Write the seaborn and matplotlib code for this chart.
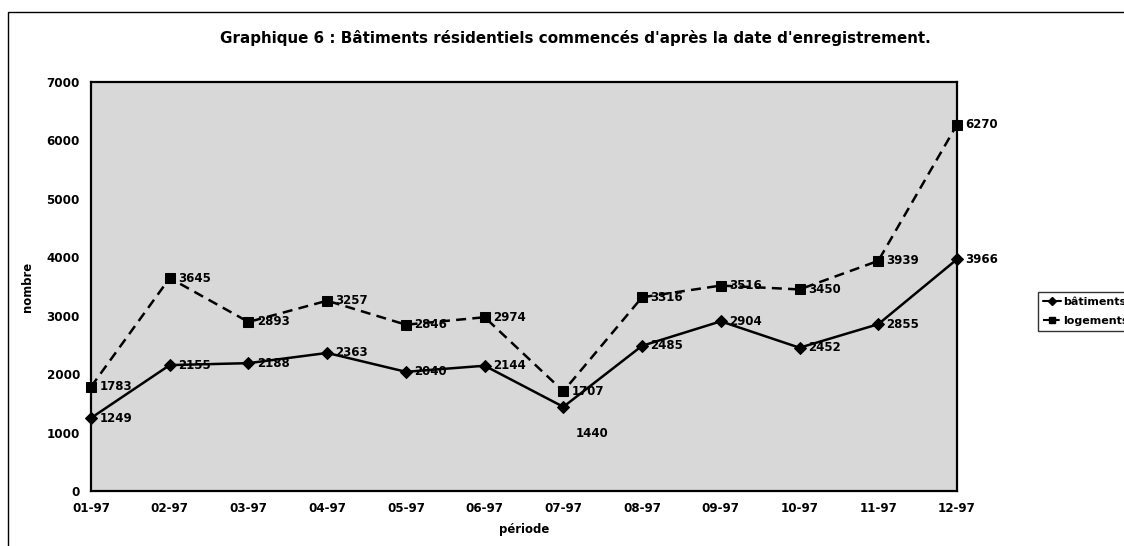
import matplotlib
matplotlib.use("Agg")
import matplotlib.pyplot as plt
import seaborn as sns
import pandas as pd
from matplotlib.patches import Rectangle
from matplotlib.lines import Line2D

periodes = ["01-97", "02-97", "03-97", "04-97", "05-97", "06-97",
            "07-97", "08-97", "09-97", "10-97", "11-97", "12-97"]
batiments = [1249, 2155, 2188, 2363, 2040, 2144, 1440, 2485, 2904, 2452, 2855, 3966]
logements = [1783, 3645, 2893, 3257, 2846, 2974, 1707, 3316, 3516, 3450, 3939, 6270]
series_names = ["bâtiments", "logements"]
titre = "Graphique 6 : Bâtiments résidentiels commencés d'après la date d'enregistrement."

sns.set_style("white")
plt.rcParams["font.family"] = ["DejaVu Sans"]
plt.rcParams["font.weight"] = "bold"
plt.rcParams["text.color"] = "black"
plt.rcParams["axes.labelcolor"] = "black"
plt.rcParams["xtick.color"] = "black"
plt.rcParams["ytick.color"] = "black"

df = pd.DataFrame({
    "idx": list(range(len(periodes))) * 2,
    "valeur": batiments + logements,
    "serie": [series_names[0]] * len(periodes) + [series_names[1]] * len(periodes),
})

fig = plt.figure(figsize=(11.24, 5.46), dpi=100)
ax = fig.add_axes([91 / 1124, 1 - 491 / 546, (957 - 91) / 1124, (491 - 82) / 546])
ax.set_facecolor("#d8d8d8")

sns.lineplot(data=df, x="idx", y="valeur", hue="serie", style="serie",
             palette={series_names[0]: "black", series_names[1]: "black"},
             dashes={series_names[0]: "", series_names[1]: (4, 2.5)},
             markers={series_names[0]: "D", series_names[1]: "s"},
             markersize=6.5, linewidth=1.8, markeredgecolor="black",
             ax=ax, legend=False, clip_on=False)

# data labels
for i, v in enumerate(batiments):
    if v == 1440:
        ax.annotate(str(v), (i, v), xytext=(9, -19), textcoords="offset points",
                    fontsize=8.5, fontweight="bold", va="center", ha="left", color="black")
    else:
        ax.annotate(str(v), (i, v), xytext=(6, 0), textcoords="offset points",
                    fontsize=8.5, fontweight="bold", va="center", ha="left", color="black")
for i, v in enumerate(logements):
    ax.annotate(str(v), (i, v), xytext=(6, 0), textcoords="offset points",
                fontsize=8.5, fontweight="bold", va="center", ha="left", color="black")

ax.set_xlim(0, len(periodes) - 1)
ax.set_ylim(0, 7000)
ax.set_xticks(range(len(periodes)))
ax.set_xticklabels(periodes)
ax.set_yticks(range(0, 7001, 1000))
ax.tick_params(axis="x", labelsize=8.6, direction="inout", length=6, width=1, pad=5)
ax.tick_params(axis="y", labelsize=8.6, direction="out", length=5, width=1, pad=3)
for lab in ax.get_xticklabels() + ax.get_yticklabels():
    lab.set_fontweight("bold")
for s in ax.spines.values():
    s.set_linewidth(1.6)
    s.set_color("black")

ax.set_xlabel("période", fontsize=8.4, fontweight="bold", labelpad=6)
ax.set_ylabel("nombre", fontsize=8.4, fontweight="bold", labelpad=9)

fig.text(575 / 1124, 1 - 38 / 546, titre, ha="center", va="center",
         fontsize=10.9, fontweight="bold", color="black")

# legend
handles = [
    Line2D([], [], color="black", lw=1.5, marker="D", markersize=4),
    Line2D([], [], color="black", lw=1.5, ls=(0, (3, 2)), marker="s", markersize=4),
]
leg = fig.legend(handles, series_names, loc="upper left",
                 bbox_to_anchor=(1038 / 1124, 1 - 292 / 546),
                 frameon=True, fancybox=False, edgecolor="black",
                 prop={"size": 8, "weight": "bold"}, handlelength=1.6,
                 borderpad=0.45, labelspacing=0.8, handletextpad=0.2,
                 borderaxespad=0)
leg.get_frame().set_linewidth(1.0)

# outer frame
fig.patches.append(Rectangle((8 / 1124, -0.1), 1.2, 1.1 - 12 / 546,
                             transform=fig.transFigure, fill=False,
                             edgecolor="black", linewidth=1.0))

fig.savefig("out.png", dpi=100)
